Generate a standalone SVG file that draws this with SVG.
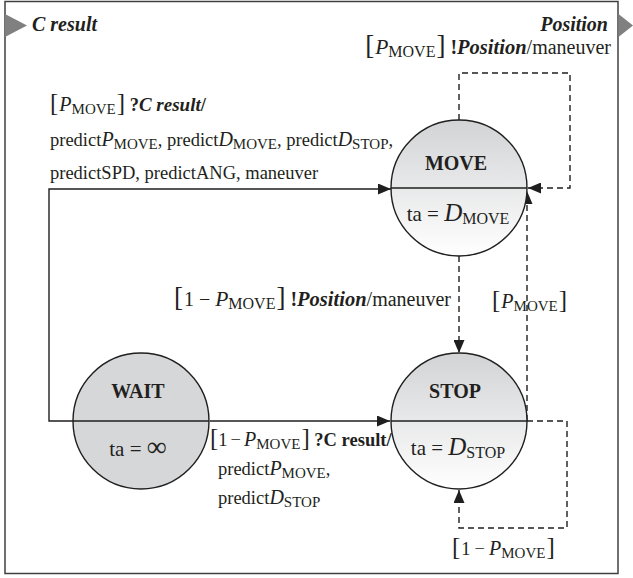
<svg xmlns="http://www.w3.org/2000/svg" width="633" height="578" viewBox="0 0 633 578" font-family="'Liberation Serif', 'DejaVu Serif', serif">
  <style>
    text { font-family: "Liberation Serif", "DejaVu Serif", serif; font-size: 18.5px; fill: #231f20; }
    .st { font-size: 20px; font-weight: bold; text-anchor: middle; }
    .ta { font-size: 21px; text-anchor: middle; }
    .it { font-style: italic; font-size: 20px; }
    .bi { font-style: italic; font-weight: bold; font-size: 19px; }
    .b { font-weight: bold; }
    .sub { font-size: 15px; font-style: normal; }
    .br { font-size: 25px; }
    .port { font-size: 20px; font-style: italic; font-weight: bold; }
    /* larger set used by the two output transitions */
    .L { font-size: 20px; }
    .L .it { font-size: 21.5px; }
    .L .bi { font-size: 20.5px; }
    .L .sub { font-size: 16px; }
    .L .br { font-size: 27px; }
    .node { stroke: #1f1f1f; stroke-width: 1.4; }
    .div { stroke: #1f1f1f; stroke-width: 1.4; }
    .solid { fill: none; stroke: #1f1f1f; stroke-width: 1.4; }
    .dash { fill: none; stroke: #1f1f1f; stroke-width: 1.4; stroke-dasharray: 6 4; }
  </style>
  <defs>
    <linearGradient id="shade" x1="0" y1="0" x2="0" y2="1">
      <stop offset="0" stop-color="#d2d3d5"/>
      <stop offset="1" stop-color="#ffffff"/>
    </linearGradient>
    <marker id="ah" viewBox="0 0 13 11" refX="13" refY="5.5" markerWidth="13" markerHeight="11" markerUnits="userSpaceOnUse" orient="auto">
      <path d="M0,0 L13,5.5 L0,11 z" fill="#1f1f1f"/>
    </marker>
  </defs>

  <!-- frame and ports -->
  <rect x="5" y="1.5" width="613" height="572" fill="#ffffff" stroke="#404040" stroke-width="1.5"/>
  <polygon points="5,14 27,25.5 5,37" fill="#808080"/>
  <polygon points="618.5,14 633,25.5 618.5,37" fill="#808080"/>
  <text class="port" x="32" y="31">C result</text>
  <text class="port" x="608" y="31" text-anchor="end">Position</text>

  <!-- connectors -->
  <g id="connectors">
    <path class="solid" d="M73,421 H49 V189 H391" marker-end="url(#ah)"/>
    <path class="solid" d="M210,421 H390" marker-end="url(#ah)"/>
    <path class="dash" d="M459,120 V73 H570 V188 H528" marker-end="url(#ah)"/>
    <path class="dash" d="M459,256 V353" marker-end="url(#ah)"/>
    <path class="dash" d="M527,421 V191" marker-end="url(#ah)"/>
    <path class="dash" d="M527,421 H567 V528 H459 V490" marker-end="url(#ah)"/>
  </g>

  <!-- states -->
  <g id="move">
    <circle class="node" cx="459" cy="188" r="68" fill="url(#shade)"/>
    <line class="div" x1="391" y1="188" x2="527" y2="188"/>
    <text class="st" x="456" y="170">MOVE</text>
    <text class="ta" x="458" y="221">ta = <tspan font-style="italic" font-size="25">D</tspan><tspan font-size="16" dy="3">MOVE</tspan></text>
  </g>
  <g id="stop">
    <circle class="node" cx="459" cy="421" r="68" fill="url(#shade)"/>
    <line class="div" x1="391" y1="421" x2="527" y2="421"/>
    <text class="st" x="455" y="398">STOP</text>
    <text class="ta" x="458" y="455">ta = <tspan font-style="italic" font-size="25">D</tspan><tspan font-size="16" dy="3">STOP</tspan></text>
  </g>
  <g id="wait">
    <circle class="node" cx="141" cy="421" r="68" fill="#d6d7d9"/>
    <line class="div" x1="73" y1="421" x2="209" y2="421"/>
    <text class="st" x="138" y="398">WAIT</text>
    <text class="ta" x="138" y="456">ta = <tspan font-size="28">∞</tspan></text>
  </g>

  <!-- transition labels -->
  <g id="labels">
    <text class="L" x="611" y="54" text-anchor="end"><tspan class="br">[</tspan><tspan class="it" dx="1">P</tspan><tspan class="sub" dy="3">MOVE</tspan><tspan class="br" dy="-3" dx="1">]</tspan> <tspan class="b">!</tspan><tspan class="bi">Position</tspan>/maneuver</text>

    <text x="50" y="111"><tspan class="br">[</tspan><tspan class="it" dx="1">P</tspan><tspan class="sub" dy="3">MOVE</tspan><tspan class="br" dy="-3" dx="1">]</tspan> <tspan class="b">?</tspan><tspan class="bi">C result</tspan><tspan class="b">/</tspan></text>
    <text x="50" y="146">predict<tspan class="it">P</tspan><tspan class="sub" dy="3">MOVE</tspan><tspan dy="-3">, predict</tspan><tspan class="it">D</tspan><tspan class="sub" dy="3">MOVE</tspan><tspan dy="-3">, predict</tspan><tspan class="it">D</tspan><tspan class="sub" dy="3">STOP</tspan><tspan dy="-3">,</tspan></text>
    <text x="50" y="179">predictSPD, predictANG, maneuver</text>

    <text class="L" x="451" y="306" text-anchor="end"><tspan class="br">[</tspan><tspan dx="1">1</tspan><tspan dx="5">−</tspan><tspan class="it" dx="5">P</tspan><tspan class="sub" dy="3">MOVE</tspan><tspan class="br" dy="-3" dx="1">]</tspan> <tspan class="b">!</tspan><tspan class="bi">Position</tspan>/maneuver</text>
    <text x="492" y="308"><tspan class="br">[</tspan><tspan class="it" dx="1">P</tspan><tspan class="sub" dy="3">MOVE</tspan><tspan class="br" dy="-3" dx="1">]</tspan></text>

    <text x="210" y="446" font-size="17.5"><tspan class="br" font-size="24">[</tspan><tspan>1</tspan><tspan dx="3">−</tspan><tspan class="it" dx="3" font-size="19">P</tspan><tspan class="sub" dy="3" font-size="14">MOVE</tspan><tspan class="br" dy="-3" dx="1" font-size="24">]</tspan> <tspan class="b">?C result/</tspan></text>
    <text x="218" y="475">predict<tspan class="it">P</tspan><tspan class="sub" dy="3">MOVE</tspan><tspan dy="-3">,</tspan></text>
    <text x="218" y="504">predict<tspan class="it">D</tspan><tspan class="sub" dy="3">STOP</tspan></text>

    <text x="452" y="555"><tspan class="br">[</tspan><tspan dx="1">1</tspan><tspan dx="4">−</tspan><tspan class="it" dx="4">P</tspan><tspan class="sub" dy="3">MOVE</tspan><tspan class="br" dy="-3" dx="1">]</tspan></text>
  </g>
</svg>
